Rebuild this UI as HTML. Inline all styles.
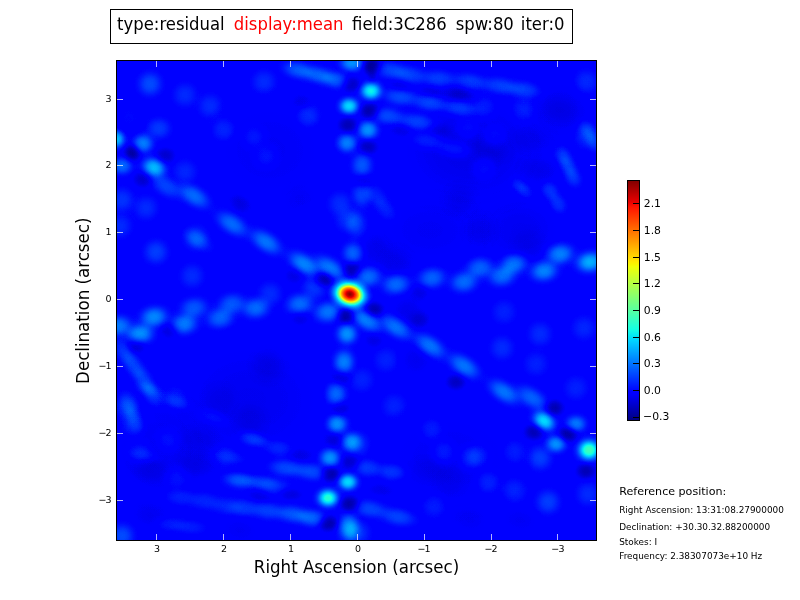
<!DOCTYPE html>
<html><head><meta charset="utf-8"><title>residual</title>
<style>
html,body{margin:0;padding:0;background:#fff;}
body{width:800px;height:600px;overflow:hidden;position:relative;}
svg{position:absolute;left:0;top:0;will-change:transform;}
text{font-family:"DejaVu Sans","Liberation Sans",sans-serif;fill:#000;}
.tl{font-size:16.5px;}
.al{font-size:16.67px;}
.tk{font-size:9.5px;}
.ng{letter-spacing:-0.8px;}
.cb{font-size:10.8px;}
.rp{font-size:11.1px;}
.rs{font-size:8.9px;}
</style></head>
<body>
<svg width="800" height="600" viewBox="0 0 800 600">
<defs>
<radialGradient id="gp"><stop offset="0" stop-color="#fff" stop-opacity="1"/><stop offset="0.07" stop-color="#fff" stop-opacity="0.993"/><stop offset="0.14" stop-color="#fff" stop-opacity="0.959"/><stop offset="0.21" stop-color="#fff" stop-opacity="0.891"/><stop offset="0.29" stop-color="#fff" stop-opacity="0.788"/><stop offset="0.36" stop-color="#fff" stop-opacity="0.66"/><stop offset="0.43" stop-color="#fff" stop-opacity="0.519"/><stop offset="0.5" stop-color="#fff" stop-opacity="0.382"/><stop offset="0.57" stop-color="#fff" stop-opacity="0.26"/><stop offset="0.64" stop-color="#fff" stop-opacity="0.164"/><stop offset="0.71" stop-color="#fff" stop-opacity="0.095"/><stop offset="0.79" stop-color="#fff" stop-opacity="0.051"/><stop offset="0.86" stop-color="#fff" stop-opacity="0.025"/><stop offset="0.93" stop-color="#fff" stop-opacity="0.011"/><stop offset="1" stop-color="#fff" stop-opacity="0"/></radialGradient><radialGradient id="gn"><stop offset="0" stop-color="#000" stop-opacity="1"/><stop offset="0.07" stop-color="#000" stop-opacity="0.993"/><stop offset="0.14" stop-color="#000" stop-opacity="0.959"/><stop offset="0.21" stop-color="#000" stop-opacity="0.891"/><stop offset="0.29" stop-color="#000" stop-opacity="0.788"/><stop offset="0.36" stop-color="#000" stop-opacity="0.66"/><stop offset="0.43" stop-color="#000" stop-opacity="0.519"/><stop offset="0.5" stop-color="#000" stop-opacity="0.382"/><stop offset="0.57" stop-color="#000" stop-opacity="0.26"/><stop offset="0.64" stop-color="#000" stop-opacity="0.164"/><stop offset="0.71" stop-color="#000" stop-opacity="0.095"/><stop offset="0.79" stop-color="#000" stop-opacity="0.051"/><stop offset="0.86" stop-color="#000" stop-opacity="0.025"/><stop offset="0.93" stop-color="#000" stop-opacity="0.011"/><stop offset="1" stop-color="#000" stop-opacity="0"/></radialGradient><radialGradient id="gc"><stop offset="0" stop-color="#fff" stop-opacity="1"/><stop offset="0.0333" stop-color="#fff" stop-opacity="0.9896"/><stop offset="0.0667" stop-color="#fff" stop-opacity="0.975"/><stop offset="0.1" stop-color="#fff" stop-opacity="0.9574"/><stop offset="0.1333" stop-color="#fff" stop-opacity="0.9355"/><stop offset="0.1667" stop-color="#fff" stop-opacity="0.908"/><stop offset="0.2" stop-color="#fff" stop-opacity="0.8766"/><stop offset="0.2333" stop-color="#fff" stop-opacity="0.8402"/><stop offset="0.2667" stop-color="#fff" stop-opacity="0.7979"/><stop offset="0.3" stop-color="#fff" stop-opacity="0.7518"/><stop offset="0.3333" stop-color="#fff" stop-opacity="0.7037"/><stop offset="0.3667" stop-color="#fff" stop-opacity="0.6508"/><stop offset="0.4" stop-color="#fff" stop-opacity="0.5872"/><stop offset="0.4333" stop-color="#fff" stop-opacity="0.5005"/><stop offset="0.4667" stop-color="#fff" stop-opacity="0.4199"/><stop offset="0.5" stop-color="#fff" stop-opacity="0.3522"/><stop offset="0.5333" stop-color="#fff" stop-opacity="0.2938"/><stop offset="0.5667" stop-color="#fff" stop-opacity="0.2482"/><stop offset="0.6" stop-color="#fff" stop-opacity="0.2099"/><stop offset="0.6333" stop-color="#fff" stop-opacity="0.1768"/><stop offset="0.6667" stop-color="#fff" stop-opacity="0.1475"/><stop offset="0.7" stop-color="#fff" stop-opacity="0.1198"/><stop offset="0.7333" stop-color="#fff" stop-opacity="0.0933"/><stop offset="0.7667" stop-color="#fff" stop-opacity="0.0698"/><stop offset="0.8" stop-color="#fff" stop-opacity="0.0509"/><stop offset="0.8333" stop-color="#fff" stop-opacity="0.0378"/><stop offset="0.8667" stop-color="#fff" stop-opacity="0.0263"/><stop offset="0.9" stop-color="#fff" stop-opacity="0.016"/><stop offset="0.9333" stop-color="#fff" stop-opacity="0.0077"/><stop offset="0.9667" stop-color="#fff" stop-opacity="0.002"/><stop offset="1" stop-color="#fff" stop-opacity="0"/></radialGradient>
<filter id="jet" filterUnits="userSpaceOnUse" x="116" y="60" width="481" height="481" color-interpolation-filters="sRGB">
<feComponentTransfer>
<feFuncR type="table" tableValues="0 0 0 0 0 0 0 0 0 0 0 0 0 0 0 0 0 0 0 0 0 0 0 0 0 0 0 0 0 0 0 0 0 0 0 0 0 0 0 0 0 0 0 0 0 0 0 0 0 0 0 0 0 0 0 0 0 0 0 0 0 0 0 0 0 0 0 0 0 0 0 0.0161 0.0323 0.0484 0.0645 0.0806 0.0968 0.1129 0.129 0.1452 0.1613 0.1774 0.1935 0.2097 0.2258 0.2419 0.2581 0.2742 0.2903 0.3065 0.3226 0.3387 0.3548 0.371 0.3871 0.4032 0.4194 0.4355 0.4516 0.4677 0.4839 0.5 0.5161 0.5323 0.5484 0.5645 0.5806 0.5968 0.6129 0.629 0.6452 0.6613 0.6774 0.6935 0.7097 0.7258 0.7419 0.7581 0.7742 0.7903 0.8065 0.8226 0.8387 0.8548 0.871 0.8871 0.9032 0.9194 0.9355 0.9516 0.9677 0.9839 1 1 1 1 1 1 1 1 1 1 1 1 1 1 1 1 1 1 1 1 1 1 1 1 1 1 1 1 1 1 1 1 1 1 1 1 1 1 1 1 1 1 1 1 1 1 1 0.9773 0.9545 0.9318 0.9091 0.8864 0.8636 0.8409 0.8182 0.7955 0.7727 0.75 0.7273 0.7045 0.6818 0.6591 0.6364 0.6136 0.5909 0.5682 0.5455 0.5227 0.5"/>
<feFuncG type="table" tableValues="0 0 0 0 0 0 0 0 0 0 0 0 0 0 0 0 0 0 0 0 0 0 0 0 0 0 0.02 0.04 0.06 0.08 0.1 0.12 0.14 0.16 0.18 0.2 0.22 0.24 0.26 0.28 0.3 0.32 0.34 0.36 0.38 0.4 0.42 0.44 0.46 0.48 0.5 0.52 0.54 0.56 0.58 0.6 0.62 0.64 0.66 0.68 0.7 0.72 0.74 0.76 0.78 0.8 0.82 0.84 0.86 0.88 0.9 0.92 0.94 0.96 0.98 1 1 1 1 1 1 1 1 1 1 1 1 1 1 1 1 1 1 1 1 1 1 1 1 1 1 1 1 1 1 1 1 1 1 1 1 1 1 1 1 1 1 1 1 1 1 1 1 1 1 1 1 1 1 0.9815 0.963 0.9444 0.9259 0.9074 0.8889 0.8704 0.8519 0.8333 0.8148 0.7963 0.7778 0.7593 0.7407 0.7222 0.7037 0.6852 0.6667 0.6481 0.6296 0.6111 0.5926 0.5741 0.5556 0.537 0.5185 0.5 0.4815 0.463 0.4444 0.4259 0.4074 0.3889 0.3704 0.3519 0.3333 0.3148 0.2963 0.2778 0.2593 0.2407 0.2222 0.2037 0.1852 0.1667 0.1481 0.1296 0.1111 0.0926 0.0741 0.0556 0.037 0.0185 0 0 0 0 0 0 0 0 0 0 0 0 0 0 0 0 0 0 0"/>
<feFuncB type="table" tableValues="0.5 0.5227 0.5455 0.5682 0.5909 0.6136 0.6364 0.6591 0.6818 0.7045 0.7273 0.75 0.7727 0.7955 0.8182 0.8409 0.8636 0.8864 0.9091 0.9318 0.9545 0.9773 1 1 1 1 1 1 1 1 1 1 1 1 1 1 1 1 1 1 1 1 1 1 1 1 1 1 1 1 1 1 1 1 1 1 1 1 1 1 1 1 1 1 1 1 1 1 1 0.9839 0.9677 0.9516 0.9355 0.9194 0.9032 0.8871 0.871 0.8548 0.8387 0.8226 0.8065 0.7903 0.7742 0.7581 0.7419 0.7258 0.7097 0.6935 0.6774 0.6613 0.6452 0.629 0.6129 0.5968 0.5806 0.5645 0.5484 0.5323 0.5161 0.5 0.4839 0.4677 0.4516 0.4355 0.4194 0.4032 0.3871 0.371 0.3548 0.3387 0.3226 0.3065 0.2903 0.2742 0.2581 0.2419 0.2258 0.2097 0.1935 0.1774 0.1613 0.1452 0.129 0.1129 0.0968 0.0806 0.0645 0.0484 0.0323 0.0161 0 0 0 0 0 0 0 0 0 0 0 0 0 0 0 0 0 0 0 0 0 0 0 0 0 0 0 0 0 0 0 0 0 0 0 0 0 0 0 0 0 0 0 0 0 0 0 0 0 0 0 0 0 0 0 0 0 0 0 0 0 0 0 0 0 0 0 0 0 0 0"/>
<feFuncA type="identity"/>
</feComponentTransfer>
</filter>
<clipPath id="axclip"><rect x="117" y="61" width="479" height="479"/></clipPath>
<linearGradient id="cbg" x1="0" y1="1" x2="0" y2="0"><stop offset="0" stop-color="rgb(0,0,128)"/><stop offset="0.11" stop-color="rgb(0,0,255)"/><stop offset="0.12" stop-color="rgb(0,0,255)"/><stop offset="0.34" stop-color="rgb(0,219,255)"/><stop offset="0.35" stop-color="rgb(0,229,247)"/><stop offset="0.38" stop-color="rgb(21,255,226)"/><stop offset="0.64" stop-color="rgb(239,255,8)"/><stop offset="0.65" stop-color="rgb(247,246,0)"/><stop offset="0.66" stop-color="rgb(255,236,0)"/><stop offset="0.89" stop-color="rgb(255,19,0)"/><stop offset="0.91" stop-color="rgb(232,0,0)"/><stop offset="1" stop-color="rgb(128,0,0)"/></linearGradient>
</defs>
<!-- title box -->
<rect x="110.5" y="9.5" width="462" height="34" fill="#fff" stroke="#000" stroke-width="1"/>
<text class="tl" transform="translate(117 30) scale(1 1.1)">type:residual</text>
<text class="tl" transform="translate(233.8 30) scale(1 1.1)" style="fill:#ff0000">display:mean</text>
<text class="tl" transform="translate(352.1 30) scale(1 1.1)">field:3C286</text>
<text class="tl" transform="translate(455.7 30) scale(1 1.1)">spw:80</text>
<text class="tl" transform="translate(520.8 30) scale(1 1.1)">iter:0</text>
<!-- image -->
<g clip-path="url(#axclip)">
<g filter="url(#jet)">
<rect x="110" y="54" width="492" height="492" fill="rgb(31,31,31)"/>
<g>
<ellipse cx="372" cy="66" rx="17.94" ry="14.95" fill="url(#gn)" opacity="0.854"/>
<ellipse cx="350" cy="84" rx="17.94" ry="14.95" fill="url(#gn)" opacity="0.598"/>
<ellipse cx="370" cy="111" rx="17.94" ry="14.95" fill="url(#gn)" opacity="0.726"/>
<ellipse cx="348" cy="125" rx="17.94" ry="14.95" fill="url(#gn)" opacity="0.598"/>
<ellipse cx="368" cy="147" rx="17.94" ry="14.95" fill="url(#gn)" opacity="0.512"/>
<ellipse cx="352" cy="270" rx="17.94" ry="14.95" fill="url(#gn)" opacity="0.598"/>
<ellipse cx="324" cy="279" rx="17.94" ry="14.95" fill="url(#gn)" opacity="0.683"/>
<ellipse cx="346" cy="316" rx="17.94" ry="14.95" fill="url(#gn)" opacity="0.726"/>
<ellipse cx="374" cy="310" rx="17.94" ry="14.95" fill="url(#gn)" opacity="0.64"/>
<ellipse cx="330" cy="474" rx="17.94" ry="14.95" fill="url(#gn)" opacity="0.726"/>
<ellipse cx="350" cy="504" rx="17.94" ry="14.95" fill="url(#gn)" opacity="0.726"/>
<ellipse cx="328" cy="523" rx="17.94" ry="14.95" fill="url(#gn)" opacity="0.726"/>
<ellipse cx="294" cy="276" rx="17.94" ry="14.95" fill="url(#gn)" opacity="0.256"/>
<ellipse cx="302" cy="102" rx="17.94" ry="14.95" fill="url(#gn)" opacity="0.213"/>
<ellipse cx="350" cy="462" rx="17.94" ry="14.95" fill="url(#gn)" opacity="0.427"/>
<ellipse cx="334" cy="440" rx="17.94" ry="14.95" fill="url(#gn)" opacity="0.341"/>
<ellipse cx="363" cy="181" rx="17.94" ry="14.95" fill="url(#gn)" opacity="0.256"/>
<ellipse cx="341" cy="378" rx="17.94" ry="14.95" fill="url(#gn)" opacity="0.341"/>
<ellipse cx="340" cy="408" rx="17.94" ry="14.95" fill="url(#gn)" opacity="0.341"/>
<ellipse cx="132.5" cy="152.5" rx="14.95" ry="14.95" fill="url(#gn)" opacity="0.768"/>
<ellipse cx="165.5" cy="155.5" rx="17.94" ry="14.95" fill="url(#gn)" opacity="0.427"/>
<ellipse cx="143" cy="179.5" rx="17.94" ry="14.95" fill="url(#gn)" opacity="0.427"/>
<ellipse cx="240" cy="204" rx="20.93" ry="14.95" fill="url(#gn)" opacity="0.299" transform="rotate(33 240 204)"/>
<ellipse cx="568" cy="434" rx="17.94" ry="14.95" fill="url(#gn)" opacity="0.726"/>
<ellipse cx="534" cy="432" rx="17.94" ry="14.95" fill="url(#gn)" opacity="0.598"/>
<ellipse cx="586" cy="471" rx="17.94" ry="14.95" fill="url(#gn)" opacity="0.598"/>
<ellipse cx="554" cy="408" rx="17.94" ry="14.95" fill="url(#gn)" opacity="0.64"/>
<ellipse cx="456" cy="382" rx="17.94" ry="14.95" fill="url(#gn)" opacity="0.512"/>
<ellipse cx="374" cy="340" rx="17.94" ry="14.95" fill="url(#gn)" opacity="0.256"/>
<ellipse cx="420" cy="320" rx="17.94" ry="14.95" fill="url(#gn)" opacity="0.341"/>
<ellipse cx="136" cy="345" rx="17.94" ry="14.95" fill="url(#gn)" opacity="0.427"/>
<ellipse cx="170" cy="330" rx="17.94" ry="14.95" fill="url(#gn)" opacity="0.341"/>
<ellipse cx="420" cy="292" rx="17.94" ry="14.95" fill="url(#gn)" opacity="0.256"/>
<ellipse cx="300" cy="318" rx="17.94" ry="14.95" fill="url(#gn)" opacity="0.256"/>
<ellipse cx="400" cy="86" rx="20.93" ry="11.96" fill="url(#gn)" opacity="0.244" transform="rotate(8 400 86)"/>
<ellipse cx="430" cy="92" rx="20.93" ry="11.96" fill="url(#gn)" opacity="0.244" transform="rotate(8 430 92)"/>
<ellipse cx="460" cy="95" rx="20.93" ry="11.96" fill="url(#gn)" opacity="0.244" transform="rotate(8 460 95)"/>
<ellipse cx="400" cy="130" rx="20.93" ry="11.96" fill="url(#gn)" opacity="0.213" transform="rotate(8 400 130)"/>
<ellipse cx="440" cy="130" rx="20.93" ry="11.96" fill="url(#gn)" opacity="0.183" transform="rotate(8 440 130)"/>
<ellipse cx="290" cy="494" rx="23.92" ry="11.96" fill="url(#gn)" opacity="0.305" transform="rotate(6 290 494)"/>
<ellipse cx="260" cy="496" rx="23.92" ry="11.96" fill="url(#gn)" opacity="0.244" transform="rotate(6 260 496)"/>
<ellipse cx="300" cy="455" rx="23.92" ry="11.96" fill="url(#gn)" opacity="0.244" transform="rotate(6 300 455)"/>
<ellipse cx="380" cy="490" rx="23.92" ry="11.96" fill="url(#gn)" opacity="0.213" transform="rotate(6 380 490)"/>
<ellipse cx="456" cy="92" rx="35.88" ry="23.92" fill="url(#gn)" opacity="0.244" transform="rotate(10 456 92)"/>
<ellipse cx="490" cy="150" rx="35.88" ry="23.92" fill="url(#gn)" opacity="0.152" transform="rotate(10 490 150)"/>
<ellipse cx="530" cy="140" rx="35.88" ry="23.92" fill="url(#gn)" opacity="0.152" transform="rotate(10 530 140)"/>
<ellipse cx="560" cy="110" rx="35.88" ry="23.92" fill="url(#gn)" opacity="0.152" transform="rotate(10 560 110)"/>
<ellipse cx="540" cy="170" rx="35.88" ry="23.92" fill="url(#gn)" opacity="0.183" transform="rotate(10 540 170)"/>
<ellipse cx="376" cy="250" rx="29.9" ry="29.9" fill="url(#gn)" opacity="0.213"/>
<ellipse cx="396" cy="264" rx="29.9" ry="29.9" fill="url(#gn)" opacity="0.213"/>
<ellipse cx="268" cy="366" rx="29.9" ry="29.9" fill="url(#gn)" opacity="0.183"/>
<ellipse cx="416" cy="360" rx="29.9" ry="29.9" fill="url(#gn)" opacity="0.183"/>
<ellipse cx="408" cy="312" rx="29.9" ry="29.9" fill="url(#gn)" opacity="0.213"/>
<ellipse cx="128" cy="120" rx="29.9" ry="29.9" fill="url(#gn)" opacity="0.183"/>
<ellipse cx="528" cy="244" rx="29.9" ry="29.9" fill="url(#gn)" opacity="0.122"/>
<ellipse cx="300" cy="200" rx="29.9" ry="29.9" fill="url(#gn)" opacity="0.122"/>
<ellipse cx="460" cy="200" rx="29.9" ry="29.9" fill="url(#gn)" opacity="0.152"/>
<ellipse cx="480" cy="230" rx="29.9" ry="29.9" fill="url(#gn)" opacity="0.152"/>
<ellipse cx="220" cy="400" rx="29.9" ry="29.9" fill="url(#gn)" opacity="0.122"/>
<ellipse cx="250" cy="420" rx="29.9" ry="29.9" fill="url(#gn)" opacity="0.152"/>
<ellipse cx="450" cy="480" rx="29.9" ry="29.9" fill="url(#gn)" opacity="0.122"/>
<ellipse cx="150" cy="470" rx="35.88" ry="23.92" fill="url(#gn)" opacity="0.183" transform="rotate(10 150 470)"/>
<ellipse cx="200" cy="440" rx="35.88" ry="23.92" fill="url(#gn)" opacity="0.152" transform="rotate(10 200 440)"/>
<ellipse cx="196" cy="464" rx="35.88" ry="23.92" fill="url(#gn)" opacity="0.213" transform="rotate(10 196 464)"/>
<ellipse cx="150" cy="515" rx="35.88" ry="23.92" fill="url(#gn)" opacity="0.183" transform="rotate(10 150 515)"/>
<ellipse cx="240" cy="530" rx="35.88" ry="23.92" fill="url(#gn)" opacity="0.152" transform="rotate(10 240 530)"/>
<ellipse cx="470" cy="520" rx="35.88" ry="23.92" fill="url(#gn)" opacity="0.152" transform="rotate(10 470 520)"/>
<ellipse cx="520" cy="520" rx="35.88" ry="23.92" fill="url(#gn)" opacity="0.152" transform="rotate(10 520 520)"/>
<ellipse cx="430" cy="470" rx="35.88" ry="23.92" fill="url(#gn)" opacity="0.122" transform="rotate(10 430 470)"/>
<ellipse cx="372" cy="72" rx="8.97" ry="20.93" fill="url(#gn)" opacity="0.366"/>
<ellipse cx="470" cy="150" rx="119.6" ry="89.7" fill="url(#gn)" opacity="0.244"/>
<ellipse cx="250" cy="400" rx="134.55" ry="104.65" fill="url(#gn)" opacity="0.183"/>
<ellipse cx="450" cy="460" rx="119.6" ry="89.7" fill="url(#gn)" opacity="0.152"/>
<ellipse cx="270" cy="150" rx="104.65" ry="89.7" fill="url(#gn)" opacity="0.152"/>
<ellipse cx="520" cy="230" rx="74.75" ry="59.8" fill="url(#gn)" opacity="0.183"/>
<ellipse cx="430" cy="230" rx="89.7" ry="59.8" fill="url(#gn)" opacity="0.152"/>
<ellipse cx="160" cy="450" rx="89.7" ry="89.7" fill="url(#gn)" opacity="0.152"/>
<ellipse cx="560" cy="110" rx="59.8" ry="59.8" fill="url(#gn)" opacity="0.152"/>
</g>
<g style="mix-blend-mode:plus-lighter">
<ellipse cx="349.9" cy="294.2" rx="25" ry="19.5" fill="url(#gc)" opacity="0.8739" transform="rotate(15 349.9 294.2)"/>
<ellipse cx="371" cy="91" rx="18.2" ry="15.6" fill="url(#gp)" opacity="0.245"/>
<ellipse cx="349" cy="106" rx="16.9" ry="14.3" fill="url(#gp)" opacity="0.218"/>
<ellipse cx="352" cy="63" rx="20.93" ry="14.95" fill="url(#gp)" opacity="0.145"/>
<ellipse cx="368" cy="130" rx="17.94" ry="16.45" fill="url(#gp)" opacity="0.145"/>
<ellipse cx="347" cy="143" rx="17.94" ry="16.45" fill="url(#gp)" opacity="0.126"/>
<ellipse cx="362" cy="165" rx="17.94" ry="20.93" fill="url(#gp)" opacity="0.087"/>
<ellipse cx="362" cy="195" rx="17.94" ry="20.93" fill="url(#gp)" opacity="0.068"/>
<ellipse cx="356" cy="224" rx="17.94" ry="23.92" fill="url(#gp)" opacity="0.058"/>
<ellipse cx="353" cy="253" rx="17.94" ry="17.94" fill="url(#gp)" opacity="0.097"/>
<ellipse cx="347" cy="334" rx="17.94" ry="17.94" fill="url(#gp)" opacity="0.145"/>
<ellipse cx="344" cy="362" rx="17.94" ry="20.93" fill="url(#gp)" opacity="0.126"/>
<ellipse cx="336" cy="394" rx="17.94" ry="20.93" fill="url(#gp)" opacity="0.106"/>
<ellipse cx="337" cy="424" rx="17.94" ry="16.45" fill="url(#gp)" opacity="0.145"/>
<ellipse cx="351" cy="442" rx="17.94" ry="16.45" fill="url(#gp)" opacity="0.121"/>
<ellipse cx="330" cy="458" rx="17.94" ry="16.45" fill="url(#gp)" opacity="0.145"/>
<ellipse cx="348" cy="482" rx="16.9" ry="14.3" fill="url(#gp)" opacity="0.218"/>
<ellipse cx="328" cy="498" rx="18.2" ry="15.6" fill="url(#gp)" opacity="0.275"/>
<ellipse cx="349" cy="528" rx="17.94" ry="23.92" fill="url(#gp)" opacity="0.155"/>
<ellipse cx="116" cy="139" rx="15.6" ry="15.6" fill="url(#gp)" opacity="0.193"/>
<ellipse cx="143" cy="143.5" rx="17.94" ry="16.45" fill="url(#gp)" opacity="0.126"/>
<ellipse cx="154" cy="167.5" rx="20.93" ry="16.45" fill="url(#gp)" opacity="0.184" transform="rotate(20 154 167.5)"/>
<ellipse cx="122" cy="166" rx="17.94" ry="14.95" fill="url(#gp)" opacity="0.106"/>
<ellipse cx="158.7" cy="128.5" rx="20.93" ry="17.94" fill="url(#gp)" opacity="0.058"/>
<ellipse cx="166" cy="186" rx="29.9" ry="16.45" fill="url(#gp)" opacity="0.068" transform="rotate(33 166 186)"/>
<ellipse cx="194" cy="196" rx="29.9" ry="16.45" fill="url(#gp)" opacity="0.106" transform="rotate(33 194 196)"/>
<ellipse cx="232" cy="224" rx="29.9" ry="16.45" fill="url(#gp)" opacity="0.106" transform="rotate(33 232 224)"/>
<ellipse cx="266" cy="242" rx="29.9" ry="16.45" fill="url(#gp)" opacity="0.116" transform="rotate(33 266 242)"/>
<ellipse cx="304" cy="264" rx="29.9" ry="16.45" fill="url(#gp)" opacity="0.131" transform="rotate(33 304 264)"/>
<ellipse cx="330" cy="268" rx="29.9" ry="16.45" fill="url(#gp)" opacity="0.121" transform="rotate(33 330 268)"/>
<ellipse cx="366" cy="320" rx="29.9" ry="16.45" fill="url(#gp)" opacity="0.126" transform="rotate(33 366 320)"/>
<ellipse cx="396" cy="327" rx="29.9" ry="16.45" fill="url(#gp)" opacity="0.116" transform="rotate(33 396 327)"/>
<ellipse cx="430" cy="346" rx="29.9" ry="16.45" fill="url(#gp)" opacity="0.116" transform="rotate(33 430 346)"/>
<ellipse cx="464" cy="366" rx="29.9" ry="16.45" fill="url(#gp)" opacity="0.116" transform="rotate(33 464 366)"/>
<ellipse cx="504" cy="392" rx="29.9" ry="16.45" fill="url(#gp)" opacity="0.116" transform="rotate(33 504 392)"/>
<ellipse cx="532" cy="398" rx="29.9" ry="16.45" fill="url(#gp)" opacity="0.097" transform="rotate(33 532 398)"/>
<ellipse cx="198" cy="240" rx="26.91" ry="14.95" fill="url(#gp)" opacity="0.048" transform="rotate(33 198 240)"/>
<ellipse cx="544" cy="421" rx="20.8" ry="15.6" fill="url(#gp)" opacity="0.218" transform="rotate(33 544 421)"/>
<ellipse cx="556" cy="444" rx="17.94" ry="14.95" fill="url(#gp)" opacity="0.145"/>
<ellipse cx="576" cy="424" rx="17.94" ry="14.95" fill="url(#gp)" opacity="0.121"/>
<ellipse cx="589" cy="450" rx="19.5" ry="18.2" fill="url(#gp)" opacity="0.305"/>
<ellipse cx="118" cy="326" rx="23.92" ry="17.94" fill="url(#gp)" opacity="0.121" transform="rotate(-8 118 326)"/>
<ellipse cx="140" cy="334" rx="23.92" ry="17.94" fill="url(#gp)" opacity="0.145" transform="rotate(-8 140 334)"/>
<ellipse cx="154" cy="317" rx="23.92" ry="17.94" fill="url(#gp)" opacity="0.135" transform="rotate(-8 154 317)"/>
<ellipse cx="184" cy="324" rx="23.92" ry="17.94" fill="url(#gp)" opacity="0.121" transform="rotate(-8 184 324)"/>
<ellipse cx="194" cy="308" rx="23.92" ry="17.94" fill="url(#gp)" opacity="0.087" transform="rotate(-8 194 308)"/>
<ellipse cx="220" cy="318" rx="23.92" ry="17.94" fill="url(#gp)" opacity="0.097" transform="rotate(-8 220 318)"/>
<ellipse cx="232" cy="304" rx="23.92" ry="17.94" fill="url(#gp)" opacity="0.087" transform="rotate(-8 232 304)"/>
<ellipse cx="256" cy="308" rx="23.92" ry="17.94" fill="url(#gp)" opacity="0.106" transform="rotate(-8 256 308)"/>
<ellipse cx="300" cy="304" rx="23.92" ry="17.94" fill="url(#gp)" opacity="0.106" transform="rotate(-8 300 304)"/>
<ellipse cx="328" cy="312" rx="23.92" ry="17.94" fill="url(#gp)" opacity="0.116" transform="rotate(-8 328 312)"/>
<ellipse cx="368" cy="277" rx="23.92" ry="17.94" fill="url(#gp)" opacity="0.106" transform="rotate(-8 368 277)"/>
<ellipse cx="396" cy="284" rx="23.92" ry="17.94" fill="url(#gp)" opacity="0.106" transform="rotate(-8 396 284)"/>
<ellipse cx="432" cy="278" rx="23.92" ry="17.94" fill="url(#gp)" opacity="0.097" transform="rotate(-8 432 278)"/>
<ellipse cx="464" cy="282" rx="23.92" ry="17.94" fill="url(#gp)" opacity="0.106" transform="rotate(-8 464 282)"/>
<ellipse cx="480" cy="268" rx="23.92" ry="17.94" fill="url(#gp)" opacity="0.097" transform="rotate(-8 480 268)"/>
<ellipse cx="502" cy="276" rx="23.92" ry="17.94" fill="url(#gp)" opacity="0.106" transform="rotate(-8 502 276)"/>
<ellipse cx="514" cy="264" rx="23.92" ry="17.94" fill="url(#gp)" opacity="0.116" transform="rotate(-8 514 264)"/>
<ellipse cx="544" cy="271" rx="23.92" ry="17.94" fill="url(#gp)" opacity="0.131" transform="rotate(-8 544 271)"/>
<ellipse cx="560" cy="254" rx="23.92" ry="17.94" fill="url(#gp)" opacity="0.131" transform="rotate(-8 560 254)"/>
<ellipse cx="590" cy="262" rx="23.92" ry="17.94" fill="url(#gp)" opacity="0.174" transform="rotate(-8 590 262)"/>
<ellipse cx="390" cy="70" rx="29.9" ry="14.95" fill="url(#gp)" opacity="0.063" transform="rotate(8 390 70)"/>
<ellipse cx="410" cy="75" rx="29.9" ry="14.95" fill="url(#gp)" opacity="0.063" transform="rotate(8 410 75)"/>
<ellipse cx="440" cy="79" rx="29.9" ry="14.95" fill="url(#gp)" opacity="0.063" transform="rotate(8 440 79)"/>
<ellipse cx="470" cy="82" rx="29.9" ry="14.95" fill="url(#gp)" opacity="0.063" transform="rotate(8 470 82)"/>
<ellipse cx="500" cy="86" rx="29.9" ry="14.95" fill="url(#gp)" opacity="0.063" transform="rotate(8 500 86)"/>
<ellipse cx="524" cy="90" rx="29.9" ry="14.95" fill="url(#gp)" opacity="0.063" transform="rotate(8 524 90)"/>
<ellipse cx="400" cy="97" rx="29.9" ry="14.95" fill="url(#gp)" opacity="0.073" transform="rotate(8 400 97)"/>
<ellipse cx="430" cy="103" rx="29.9" ry="14.95" fill="url(#gp)" opacity="0.073" transform="rotate(8 430 103)"/>
<ellipse cx="460" cy="108" rx="29.9" ry="14.95" fill="url(#gp)" opacity="0.073" transform="rotate(8 460 108)"/>
<ellipse cx="388" cy="116" rx="29.9" ry="14.95" fill="url(#gp)" opacity="0.073" transform="rotate(8 388 116)"/>
<ellipse cx="418" cy="122" rx="29.9" ry="14.95" fill="url(#gp)" opacity="0.073" transform="rotate(8 418 122)"/>
<ellipse cx="428" cy="141" rx="29.9" ry="14.95" fill="url(#gp)" opacity="0.048" transform="rotate(8 428 141)"/>
<ellipse cx="454" cy="149" rx="29.9" ry="14.95" fill="url(#gp)" opacity="0.048" transform="rotate(8 454 149)"/>
<ellipse cx="298" cy="70" rx="26.91" ry="14.95" fill="url(#gp)" opacity="0.087" transform="rotate(12 298 70)"/>
<ellipse cx="318" cy="75" rx="26.91" ry="14.95" fill="url(#gp)" opacity="0.087" transform="rotate(12 318 75)"/>
<ellipse cx="336" cy="80" rx="26.91" ry="14.95" fill="url(#gp)" opacity="0.087" transform="rotate(12 336 80)"/>
<ellipse cx="286" cy="468" rx="29.9" ry="14.95" fill="url(#gp)" opacity="0.073" transform="rotate(6 286 468)"/>
<ellipse cx="312" cy="472" rx="29.9" ry="14.95" fill="url(#gp)" opacity="0.073" transform="rotate(6 312 472)"/>
<ellipse cx="240" cy="481" rx="29.9" ry="14.95" fill="url(#gp)" opacity="0.053" transform="rotate(6 240 481)"/>
<ellipse cx="272" cy="486" rx="29.9" ry="14.95" fill="url(#gp)" opacity="0.053" transform="rotate(6 272 486)"/>
<ellipse cx="244" cy="508" rx="26.91" ry="14.95" fill="url(#gp)" opacity="0.053" transform="rotate(6 244 508)"/>
<ellipse cx="268" cy="511" rx="26.91" ry="14.95" fill="url(#gp)" opacity="0.063" transform="rotate(6 268 511)"/>
<ellipse cx="292" cy="514" rx="26.91" ry="14.95" fill="url(#gp)" opacity="0.082" transform="rotate(6 292 514)"/>
<ellipse cx="312" cy="518" rx="26.91" ry="14.95" fill="url(#gp)" opacity="0.097" transform="rotate(6 312 518)"/>
<ellipse cx="252" cy="440" rx="26.91" ry="14.95" fill="url(#gp)" opacity="0.044" transform="rotate(10 252 440)"/>
<ellipse cx="278" cy="448" rx="26.91" ry="14.95" fill="url(#gp)" opacity="0.044" transform="rotate(10 278 448)"/>
<ellipse cx="180" cy="497" rx="26.91" ry="14.95" fill="url(#gp)" opacity="0.036" transform="rotate(8 180 497)"/>
<ellipse cx="204" cy="501" rx="26.91" ry="14.95" fill="url(#gp)" opacity="0.036" transform="rotate(8 204 501)"/>
<ellipse cx="226" cy="506" rx="26.91" ry="14.95" fill="url(#gp)" opacity="0.036" transform="rotate(8 226 506)"/>
<ellipse cx="370" cy="509" rx="29.9" ry="14.95" fill="url(#gp)" opacity="0.068" transform="rotate(10 370 509)"/>
<ellipse cx="398" cy="517" rx="29.9" ry="14.95" fill="url(#gp)" opacity="0.068" transform="rotate(10 398 517)"/>
<ellipse cx="368" cy="468" rx="23.92" ry="14.95" fill="url(#gp)" opacity="0.058" transform="rotate(5 368 468)"/>
<ellipse cx="392" cy="472" rx="23.92" ry="14.95" fill="url(#gp)" opacity="0.058" transform="rotate(5 392 472)"/>
<ellipse cx="150" cy="84" rx="20.93" ry="20.93" fill="url(#gp)" opacity="0.077"/>
<ellipse cx="185" cy="95" rx="20.93" ry="20.93" fill="url(#gp)" opacity="0.044"/>
<ellipse cx="210" cy="106" rx="20.93" ry="20.93" fill="url(#gp)" opacity="0.044"/>
<ellipse cx="224" cy="130" rx="20.93" ry="20.93" fill="url(#gp)" opacity="0.044"/>
<ellipse cx="129" cy="118" rx="20.93" ry="20.93" fill="url(#gp)" opacity="0.029"/>
<ellipse cx="264" cy="82" rx="20.93" ry="20.93" fill="url(#gp)" opacity="0.044"/>
<ellipse cx="308" cy="116" rx="20.93" ry="20.93" fill="url(#gp)" opacity="0.048"/>
<ellipse cx="254" cy="137" rx="20.93" ry="20.93" fill="url(#gp)" opacity="0.039"/>
<ellipse cx="266" cy="156" rx="20.93" ry="20.93" fill="url(#gp)" opacity="0.039"/>
<ellipse cx="185" cy="172" rx="20.93" ry="20.93" fill="url(#gp)" opacity="0.039"/>
<ellipse cx="122" cy="200" rx="20.93" ry="20.93" fill="url(#gp)" opacity="0.053"/>
<ellipse cx="146" cy="208" rx="20.93" ry="20.93" fill="url(#gp)" opacity="0.044"/>
<ellipse cx="196" cy="238" rx="20.93" ry="20.93" fill="url(#gp)" opacity="0.058"/>
<ellipse cx="156" cy="252" rx="20.93" ry="20.93" fill="url(#gp)" opacity="0.063"/>
<ellipse cx="192" cy="276" rx="20.93" ry="20.93" fill="url(#gp)" opacity="0.044"/>
<ellipse cx="120" cy="226" rx="20.93" ry="20.93" fill="url(#gp)" opacity="0.044"/>
<ellipse cx="340" cy="204" rx="20.93" ry="20.93" fill="url(#gp)" opacity="0.044"/>
<ellipse cx="348" cy="220" rx="20.93" ry="20.93" fill="url(#gp)" opacity="0.048"/>
<ellipse cx="270" cy="294" rx="20.93" ry="20.93" fill="url(#gp)" opacity="0.044"/>
<ellipse cx="314" cy="288" rx="20.93" ry="20.93" fill="url(#gp)" opacity="0.053"/>
<ellipse cx="586" cy="82" rx="20.93" ry="20.93" fill="url(#gp)" opacity="0.044"/>
<ellipse cx="494" cy="136" rx="20.93" ry="20.93" fill="url(#gp)" opacity="0.034"/>
<ellipse cx="586" cy="136" rx="20.93" ry="20.93" fill="url(#gp)" opacity="0.044"/>
<ellipse cx="484" cy="168" rx="20.93" ry="20.93" fill="url(#gp)" opacity="0.034"/>
<ellipse cx="468" cy="128" rx="20.93" ry="20.93" fill="url(#gp)" opacity="0.034"/>
<ellipse cx="484" cy="108" rx="20.93" ry="20.93" fill="url(#gp)" opacity="0.039"/>
<ellipse cx="524" cy="110" rx="20.93" ry="20.93" fill="url(#gp)" opacity="0.039"/>
<ellipse cx="518" cy="185" rx="14.95" ry="11.96" fill="url(#gp)" opacity="0.039" transform="rotate(50 518 185)"/>
<ellipse cx="525" cy="191" rx="14.95" ry="11.96" fill="url(#gp)" opacity="0.039" transform="rotate(50 525 191)"/>
<ellipse cx="550" cy="191" rx="17.94" ry="13.46" fill="url(#gp)" opacity="0.048" transform="rotate(60 550 191)"/>
<ellipse cx="558" cy="204" rx="17.94" ry="13.46" fill="url(#gp)" opacity="0.048" transform="rotate(60 558 204)"/>
<ellipse cx="563" cy="156" rx="17.94" ry="13.46" fill="url(#gp)" opacity="0.053" transform="rotate(62 563 156)"/>
<ellipse cx="568" cy="166" rx="17.94" ry="13.46" fill="url(#gp)" opacity="0.053" transform="rotate(62 568 166)"/>
<ellipse cx="573" cy="177" rx="17.94" ry="13.46" fill="url(#gp)" opacity="0.053" transform="rotate(62 573 177)"/>
<ellipse cx="587" cy="130" rx="17.94" ry="13.46" fill="url(#gp)" opacity="0.048" transform="rotate(60 587 130)"/>
<ellipse cx="594" cy="142" rx="17.94" ry="13.46" fill="url(#gp)" opacity="0.048" transform="rotate(60 594 142)"/>
<ellipse cx="386" cy="210" rx="23.92" ry="14.95" fill="url(#gp)" opacity="0.034" transform="rotate(45 386 210)"/>
<ellipse cx="376" cy="196" rx="23.92" ry="14.95" fill="url(#gp)" opacity="0.034" transform="rotate(45 376 196)"/>
<ellipse cx="502" cy="348" rx="20.93" ry="20.93" fill="url(#gp)" opacity="0.044"/>
<ellipse cx="540" cy="334" rx="20.93" ry="20.93" fill="url(#gp)" opacity="0.044"/>
<ellipse cx="504" cy="312" rx="20.93" ry="20.93" fill="url(#gp)" opacity="0.034"/>
<ellipse cx="584" cy="328" rx="20.93" ry="20.93" fill="url(#gp)" opacity="0.039"/>
<ellipse cx="536" cy="364" rx="20.93" ry="20.93" fill="url(#gp)" opacity="0.034"/>
<ellipse cx="576" cy="388" rx="20.93" ry="20.93" fill="url(#gp)" opacity="0.034"/>
<ellipse cx="386" cy="360" rx="20.93" ry="20.93" fill="url(#gp)" opacity="0.034"/>
<ellipse cx="362" cy="380" rx="20.93" ry="20.93" fill="url(#gp)" opacity="0.034"/>
<ellipse cx="394" cy="406" rx="20.93" ry="20.93" fill="url(#gp)" opacity="0.034"/>
<ellipse cx="432" cy="430" rx="20.93" ry="20.93" fill="url(#gp)" opacity="0.039"/>
<ellipse cx="444" cy="452" rx="20.93" ry="20.93" fill="url(#gp)" opacity="0.044"/>
<ellipse cx="470" cy="458" rx="20.93" ry="20.93" fill="url(#gp)" opacity="0.044"/>
<ellipse cx="434" cy="506" rx="20.93" ry="20.93" fill="url(#gp)" opacity="0.034"/>
<ellipse cx="540" cy="458" rx="20.93" ry="20.93" fill="url(#gp)" opacity="0.063"/>
<ellipse cx="478" cy="456" rx="20.93" ry="20.93" fill="url(#gp)" opacity="0.044"/>
<ellipse cx="488" cy="482" rx="20.93" ry="20.93" fill="url(#gp)" opacity="0.044"/>
<ellipse cx="514" cy="490" rx="20.93" ry="20.93" fill="url(#gp)" opacity="0.039"/>
<ellipse cx="548" cy="502" rx="20.93" ry="20.93" fill="url(#gp)" opacity="0.063"/>
<ellipse cx="588" cy="494" rx="20.93" ry="20.93" fill="url(#gp)" opacity="0.044"/>
<ellipse cx="514" cy="452" rx="20.93" ry="20.93" fill="url(#gp)" opacity="0.034"/>
<ellipse cx="357" cy="444" rx="20.93" ry="20.93" fill="url(#gp)" opacity="0.053"/>
<ellipse cx="358" cy="533" rx="20.93" ry="20.93" fill="url(#gp)" opacity="0.053"/>
<ellipse cx="124" cy="352" rx="26.91" ry="14.95" fill="url(#gp)" opacity="0.053" transform="rotate(58 124 352)"/>
<ellipse cx="134" cy="366" rx="26.91" ry="14.95" fill="url(#gp)" opacity="0.053" transform="rotate(58 134 366)"/>
<ellipse cx="144" cy="380" rx="26.91" ry="14.95" fill="url(#gp)" opacity="0.053" transform="rotate(58 144 380)"/>
<ellipse cx="152" cy="394" rx="26.91" ry="14.95" fill="url(#gp)" opacity="0.053" transform="rotate(58 152 394)"/>
<ellipse cx="126" cy="408" rx="20.93" ry="20.93" fill="url(#gp)" opacity="0.044"/>
<ellipse cx="176" cy="398" rx="20.93" ry="20.93" fill="url(#gp)" opacity="0.034"/>
<ellipse cx="140" cy="452" rx="20.93" ry="20.93" fill="url(#gp)" opacity="0.034"/>
<ellipse cx="168" cy="440" rx="20.93" ry="20.93" fill="url(#gp)" opacity="0.034"/>
<ellipse cx="132" cy="426" rx="20.93" ry="20.93" fill="url(#gp)" opacity="0.034"/>
<ellipse cx="122" cy="536" rx="20.93" ry="20.93" fill="url(#gp)" opacity="0.077"/>
<ellipse cx="224" cy="456" rx="20.93" ry="20.93" fill="url(#gp)" opacity="0.029"/>
<ellipse cx="176" cy="478" rx="20.93" ry="20.93" fill="url(#gp)" opacity="0.029"/>
<ellipse cx="129" cy="405" rx="23.92" ry="14.95" fill="url(#gp)" opacity="0.048" transform="rotate(65 129 405)"/>
<ellipse cx="134" cy="420" rx="23.92" ry="14.95" fill="url(#gp)" opacity="0.048" transform="rotate(65 134 420)"/>
<ellipse cx="150" cy="390" rx="26.91" ry="11.96" fill="url(#gp)" opacity="0.034" transform="rotate(18 150 390)"/>
<ellipse cx="177" cy="402" rx="26.91" ry="11.96" fill="url(#gp)" opacity="0.034" transform="rotate(18 177 402)"/>
<ellipse cx="213" cy="417" rx="26.91" ry="11.96" fill="url(#gp)" opacity="0.034" transform="rotate(18 213 417)"/>
<ellipse cx="254" cy="438" rx="26.91" ry="11.96" fill="url(#gp)" opacity="0.034" transform="rotate(18 254 438)"/>
<ellipse cx="144" cy="455" rx="26.91" ry="11.96" fill="url(#gp)" opacity="0.029" transform="rotate(10 144 455)"/>
<ellipse cx="231" cy="457" rx="26.91" ry="11.96" fill="url(#gp)" opacity="0.029" transform="rotate(10 231 457)"/>
<ellipse cx="240" cy="480" rx="26.91" ry="11.96" fill="url(#gp)" opacity="0.039" transform="rotate(8 240 480)"/>
<ellipse cx="262" cy="482" rx="26.91" ry="11.96" fill="url(#gp)" opacity="0.039" transform="rotate(8 262 482)"/>
<ellipse cx="170" cy="524" rx="26.91" ry="11.96" fill="url(#gp)" opacity="0.029" transform="rotate(5 170 524)"/>
<ellipse cx="190" cy="527" rx="26.91" ry="11.96" fill="url(#gp)" opacity="0.029" transform="rotate(5 190 527)"/>
</g>
</g>
</g>
<!-- ticks -->
<g stroke="#fff" stroke-width="0.7" fill="none">
<path d="M156.5 534v6M223.5 534v6M290.5 534v6M357.5 534v6M424.5 534v6M491.5 534v6M557.5 534v6"/>
<path d="M156.5 61v6M223.5 61v6M290.5 61v6M357.5 61v6M424.5 61v6M491.5 61v6M557.5 61v6"/>
<path d="M117 99.5h6M117 165.5h6M117 232.5h6M117 299.5h6M117 366.5h6M117 433.5h6M117 500.5h6"/>
<path d="M590 99.5h6M590 165.5h6M590 232.5h6M590 299.5h6M590 366.5h6M590 433.5h6M590 500.5h6"/>
</g>
<rect x="116.5" y="60.5" width="480" height="480" fill="none" stroke="#000" stroke-width="1"/>
<!-- tick labels -->
<g class="tk" text-anchor="middle">
<text class="tk" x="157" y="552">3</text>
<text class="tk" x="224" y="552">2</text>
<text class="tk" x="291" y="552">1</text>
<text class="tk" x="358" y="552">0</text>
<text class="tk ng" x="423.6" y="552">&#8722;1</text>
<text class="tk ng" x="490.6" y="552">&#8722;2</text>
<text class="tk ng" x="557.5" y="552">&#8722;3</text>
</g>
<g text-anchor="end" transform="translate(-0.4 0)">
<text class="tk" x="112" y="102">3</text>
<text class="tk" x="112" y="168">2</text>
<text class="tk" x="112" y="235">1</text>
<text class="tk" x="112" y="302">0</text>
<text class="tk ng" x="111.2" y="369">&#8722;1</text>
<text class="tk ng" x="111.2" y="436">&#8722;2</text>
<text class="tk ng" x="111.2" y="503">&#8722;3</text>
</g>
<!-- axis labels -->
<text class="al" transform="translate(356.5 572.5) scale(1 1.08)" text-anchor="middle">Right Ascension (arcsec)</text>
<text class="al" transform="translate(89 300.75) rotate(-90) scale(1 1.08)" text-anchor="middle">Declination (arcsec)</text>
<!-- colorbar -->
<rect x="627.5" y="180.5" width="12" height="240" fill="url(#cbg)" stroke="#000" stroke-width="1"/>
<g stroke="#000" stroke-width="1">
<path d="M633 203.5h6M633 230.5h6M633 257.5h6M633 283.5h6M633 310.5h6M633 337.5h6M633 363.5h6M633 390.5h6M633 417.5h6"/>
</g>
<g class="cb">
<text class="cb" x="643.8" y="206.5">2.1</text>
<text class="cb" x="643.8" y="233.5">1.8</text>
<text class="cb" x="643.8" y="260.5">1.5</text>
<text class="cb" x="643.8" y="286.5">1.2</text>
<text class="cb" x="643.8" y="313.5">0.9</text>
<text class="cb" x="643.8" y="340.5">0.6</text>
<text class="cb" x="643.8" y="366.5">0.3</text>
<text class="cb" x="643.8" y="393.5">0.0</text>
<text class="cb" x="643.1" y="420.3">&#8722;0.3</text>
</g>
<!-- reference info -->
<text class="rp" x="619.2" y="495">Reference position:</text>
<text class="rs" x="619.2" y="512.6">Right Ascension: 13:31:08.27900000</text>
<text class="rs" x="619.2" y="529.8">Declination: +30.30.32.88200000</text>
<text class="rs" x="619.2" y="544.9">Stokes: I</text>
<text class="rs" x="619.2" y="558.9">Frequency: 2.38307073e+10 Hz</text>
</svg>
</body></html>
